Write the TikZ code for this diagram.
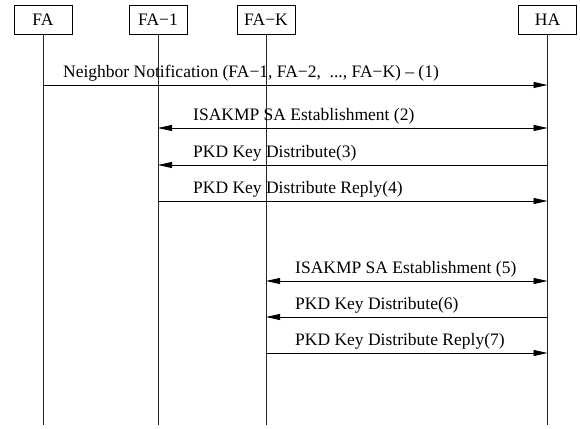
\documentclass[tikz,border=0pt]{standalone}
\usepackage{fontspec}
\setmainfont{Liberation Serif}
\usetikzlibrary{arrows.meta}

\tikzset{
	entity/.style={draw, line width=0.8pt, minimum width=58pt, minimum height=29pt, inner sep=0pt, font=\fontsize{17.5}{17.5}\selectfont},
	lifeline/.style={line width=0.8pt, color=black!85},
	msg/.style={line width=0.8pt, -{Triangle[length=14pt,width=6pt]}},
	twoway/.style={line width=0.8pt, {Triangle[length=14pt,width=6pt]}-{Triangle[length=14pt,width=6pt]}},
	msglabel/.style={anchor=base west, inner sep=0pt, font=\fontsize{17.5}{17.5}\selectfont}
}

\begin{document}
\begin{tikzpicture}[x=1pt, y=1pt]
			%%%%% START %%%%%
			\useasboundingbox (0, 0) rectangle (580, 428);
			
			\node[entity] (fa) at (43, 408.5) {FA};
			\node[entity] (fa1) at (158, 408.5) {FA−1};
			\node[entity] (fak) at (266, 408.5) {FA−K};
			\node[entity] (ha) at (547.5, 408.5) {HA};
			
			\coordinate (bottom) at (0, 3);
			\draw[lifeline] (fa) -- (fa |- bottom);
			\draw[lifeline] (fa1) -- (fa1 |- bottom);
			\draw[lifeline] (fak) -- (fak |- bottom);
			\draw[lifeline] (ha) -- (ha |- bottom);
			
			\draw[msg] (fa |- 0, 343) -- (ha |- 0, 343);
			\node[msglabel] (m1) at (63, 350) {Neighbor Notification (FA−1, FA−2,\ \ ..., FA−K) – (1)};
			
			\draw[twoway] (fa1 |- 0, 300) -- (ha |- 0, 300);
			\node[msglabel] (m2) at (193, 307) {ISAKMP SA Establishment (2)};
			
			\draw[msg] (ha |- 0, 263) -- (fa1 |- 0, 263);
			\node[msglabel] (m3) at (193, 270) {PKD Key Distribute(3)};
			
			\draw[msg] (fa1 |- 0, 227) -- (ha |- 0, 227);
			\node[msglabel] (m4) at (193, 234) {PKD Key Distribute Reply(4)};
			
			\draw[twoway] (fak |- 0, 147) -- (ha |- 0, 147);
			\node[msglabel] (m5) at (295, 154) {ISAKMP SA Establishment (5)};
			
			\draw[msg] (ha |- 0, 111) -- (fak |- 0, 111);
			\node[msglabel] (m6) at (295, 118) {PKD Key Distribute(6)};
			
			\draw[msg] (fak |- 0, 75) -- (ha |- 0, 75);
			\node[msglabel] (m7) at (295, 82) {PKD Key Distribute Reply(7)};
			
			%%%%% END %%%%%
\end{tikzpicture}
\end{document}
